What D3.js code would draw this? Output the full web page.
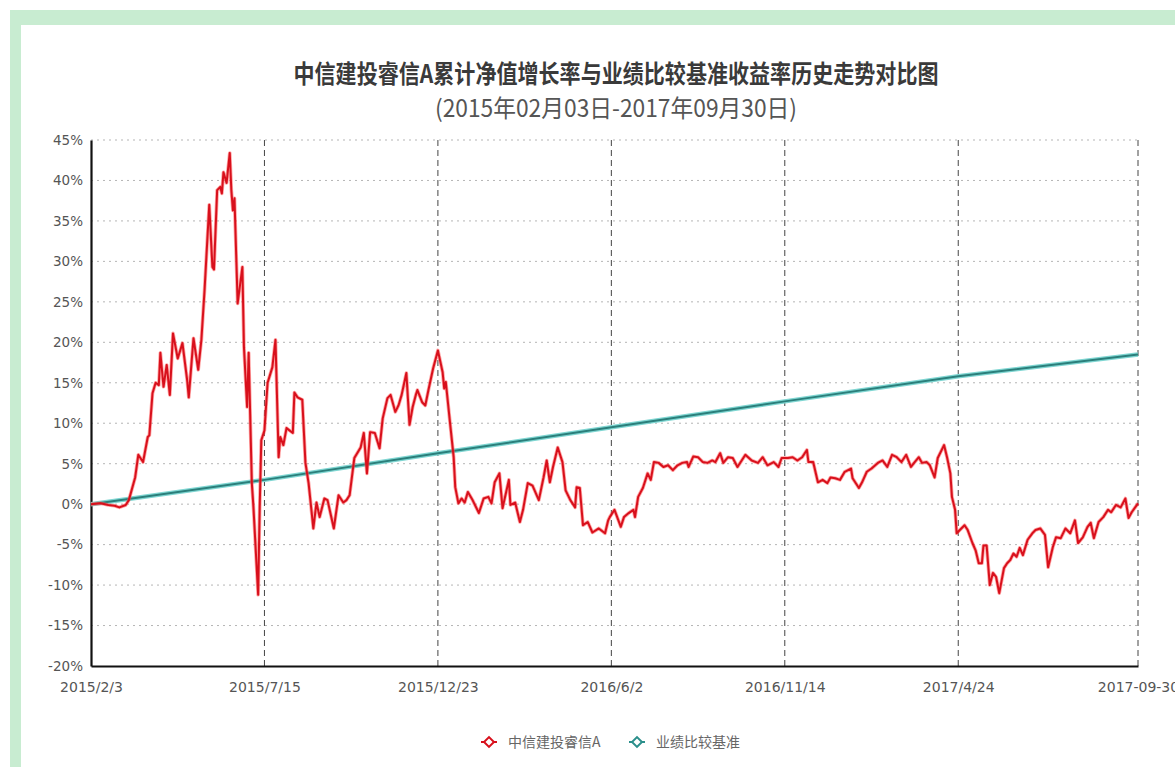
<!DOCTYPE html>
<html><head><meta charset="utf-8">
<script src="https://cdn.jsdelivr.net/npm/d3@7"></script>
<style>
html,body{margin:0;padding:0;background:#fff;}
svg{display:block;}
</style></head>
<body>
<svg id="c" width="1175" height="767"></svg>
<script>
// ---- data ----
const titleText = "中信建投睿信A累计净值增长率与业绩比较基准收益率历史走势对比图";
const subtitleText = "(2015年02月03日-2017年09月30日)";
const seriesNames = ["中信建投睿信A", "业绩比较基准"];
const xTickIdx = [0, 110, 220, 330, 440, 550, 664];
const xTickLabels = ["2015/2/3", "2015/7/15", "2015/12/23", "2016/6/2", "2016/11/14", "2017/4/24", "2017-09-30"];
const yTicks = [-20, -15, -10, -5, 0, 5, 10, 15, 20, 25, 30, 35, 40, 45];

// fund cumulative NAV growth (%) at trading-day index
const navIdx = [0,6,11,15,18,22,24,28,30,33,36,37,39,41,43,44,46,48,50,52,55,58,61,62,65,68,70,72,75,77,78,80,82,83,84,86,88,89,90,91,93,96,97,99,100,102,103,106,107,108,110,112,115,117,119,120,122,124,128,129,131,134,136,138,141,143,145,148,150,154,157,160,162,164,167,171,173,175,177,180,183,185,188,190,193,195,197,200,202,204,206,207,210,212,214,217,220,223,224,225,228,230,231,233,235,237,239,242,246,249,252,254,256,259,261,265,266,269,272,274,277,280,284,287,289,291,293,296,299,301,304,307,308,310,312,315,318,322,326,328,329,332,336,338,341,344,345,347,350,353,355,357,360,363,366,369,372,375,378,379,382,385,388,391,394,396,399,401,404,407,410,415,419,423,426,429,433,436,438,442,445,448,451,454,455,458,461,464,467,469,472,475,478,482,483,487,489,492,495,499,502,505,508,511,514,517,520,522,525,527,530,532,535,537,541,543,545,546,548,549,551,554,556,559,561,563,565,566,568,570,572,574,576,579,581,583,585,587,589,591,594,597,599,602,605,607,610,612,615,618,621,624,626,629,632,634,636,639,642,645,647,650,653,656,658,660,664];
const navVal = [0.0,0.1,-0.1,-0.2,-0.4,-0.1,0.5,3.3,6.1,5.2,8.3,8.5,13.7,15.0,14.7,18.7,14.5,17.2,13.5,21.1,18.0,19.9,15.3,13.2,20.5,16.6,20.3,26.4,37.0,29.3,29.0,38.8,39.2,38.4,41.0,39.7,43.4,38.8,36.3,37.8,24.8,29.3,19.4,12.0,18.7,2.6,-0.3,-11.2,-0.3,7.9,9.1,15.0,16.9,20.3,5.8,8.3,7.3,9.4,8.8,13.8,13.2,12.9,5.1,2.6,-3.0,0.2,-1.6,0.7,0.5,-3.0,1.1,0.2,0.5,1.1,5.7,7.0,8.8,3.8,8.9,8.8,6.9,10.6,13.1,13.5,11.4,12.2,13.5,16.2,9.8,12.0,13.5,14.1,12.6,12.2,14.1,16.8,19.0,16.3,14.3,15.1,9.5,5.8,2.1,0.1,0.7,0.2,1.5,0.5,-1.1,0.7,0.9,0.1,2.7,3.8,-0.5,3.0,-0.1,0.2,-2.2,-0.7,2.6,2.3,0.5,3.3,5.4,2.7,4.6,7.0,5.2,1.7,0.5,-0.4,2.1,2.0,-2.6,-2.2,-3.5,-3.0,-3.6,-2.0,-1.6,-0.7,-2.8,-1.6,-1.1,-0.7,-1.6,0.9,2.0,3.8,3.0,5.2,5.1,4.6,4.8,4.2,4.8,5.1,5.2,4.6,5.9,5.8,5.2,5.1,5.4,5.2,6.3,5.1,5.8,5.7,4.6,6.1,5.4,5.1,5.8,4.8,5.2,4.6,5.7,5.7,5.8,5.4,5.8,6.7,5.2,5.2,2.7,3.0,2.6,3.3,3.2,3.0,4.0,4.4,3.2,2.0,2.7,4.0,4.4,5.1,5.4,4.6,6.1,5.8,5.2,6.1,4.6,5.1,5.8,5.1,5.2,4.8,3.3,5.7,7.3,5.7,3.8,0.9,-0.7,-3.6,-3.2,-2.6,-3.2,-4.8,-5.7,-7.3,-7.3,-5.1,-5.1,-10.0,-8.5,-9.0,-11.0,-7.9,-7.3,-6.9,-6.1,-6.5,-5.4,-6.3,-4.4,-3.6,-3.2,-3.0,-3.8,-7.8,-5.3,-4.1,-4.2,-3.0,-3.6,-2.0,-4.8,-4.1,-2.8,-2.3,-4.2,-2.2,-1.6,-0.7,-1.0,-0.1,-0.4,0.7,-1.7,-1.0,0.1];

// benchmark return (%) at trading-day index
const benchIdx = [0, 110, 220, 330, 440, 550, 664];
const benchVal = [0.0, 3.0, 6.3, 9.5, 12.7, 15.8, 18.5];

// ---- drawing ----
const svg = d3.select("#c");
const W = 1175, H = 767;
const plot = {left: 91, right: 1138, top: 140, bottom: 666};

// background frame
svg.append("rect").attr("x", 0).attr("y", 0).attr("width", W).attr("height", H).attr("fill", "#fff");
svg.append("rect").attr("x", 10).attr("y", 10).attr("width", W - 10).attr("height", 15).attr("fill", "#c8ecd1");
svg.append("rect").attr("x", 10).attr("y", 10).attr("width", 11).attr("height", H - 10).attr("fill", "#c8ecd1");

const x = d3.scaleLinear().domain([0, 664]).range([plot.left, plot.right]);
const y = d3.scaleLinear().domain([-20, 45]).range([plot.bottom, plot.top]);

// horizontal dotted grid
svg.append("g").selectAll("line").data(yTicks.filter(d => d > -20)).join("line")
  .attr("x1", plot.left).attr("x2", plot.right)
  .attr("y1", d => y(d)).attr("y2", d => y(d))
  .attr("stroke", "#b5b5b5").attr("stroke-width", 1).attr("stroke-dasharray", "2,4");

// vertical dashed grid
svg.append("g").selectAll("line").data(xTickIdx.slice(1)).join("line")
  .attr("x1", d => x(d)).attr("x2", d => x(d))
  .attr("y1", plot.top).attr("y2", plot.bottom)
  .attr("stroke", "#444").attr("stroke-width", 1).attr("stroke-dasharray", "6,4");

// y axis
const yAxis = d3.axisLeft(y).tickValues(yTicks).tickSize(0).tickPadding(8).tickFormat(d => d + "%");
const gy = svg.append("g").attr("transform", `translate(${plot.left},0)`).call(yAxis);
gy.select(".domain").attr("stroke", "#111").attr("stroke-width", 2.2);
gy.selectAll("text").attr("font-family", "DejaVu Sans, Verdana, sans-serif").attr("font-size", 13.5).attr("fill", "#555");

// x axis
const xAxis = d3.axisBottom(x).tickValues(xTickIdx).tickSize(0).tickPadding(16)
  .tickFormat((d, i) => xTickLabels[i]);
const gx = svg.append("g").attr("transform", `translate(0,${plot.bottom})`).call(xAxis);
gx.select(".domain").attr("stroke", "#111").attr("stroke-width", 2.2);
gx.selectAll("text").attr("font-family", "DejaVu Sans, Verdana, sans-serif").attr("font-size", 14).attr("fill", "#555");

// lines
const benchLine = d3.line().x((d, i) => x(benchIdx[i])).y(d => y(d));
svg.append("path").attr("d", benchLine(benchVal)).attr("fill", "none")
  .attr("stroke", "#7fd6d2").attr("stroke-width", 4.5).attr("stroke-linejoin", "round");
svg.append("path").attr("d", benchLine(benchVal)).attr("fill", "none")
  .attr("stroke", "#2b7f7b").attr("stroke-width", 2).attr("stroke-linejoin", "round");

const navLine = d3.line().x((d, i) => x(navIdx[i])).y(d => y(d));
svg.append("path").attr("d", navLine(navVal)).attr("fill", "none")
  .attr("stroke", "#ff5a5a").attr("stroke-opacity", 0.55).attr("stroke-width", 3.6).attr("stroke-linejoin", "round");
svg.append("path").attr("d", navLine(navVal)).attr("fill", "none")
  .attr("stroke", "#d8101c").attr("stroke-width", 2).attr("stroke-linejoin", "round");

// title
svg.append("text").attr("x", 616).attr("y", 83).attr("text-anchor", "middle")
  .attr("font-family", "Noto Sans CJK SC, sans-serif").attr("font-size", 25).attr("font-weight", "bold")
  .attr("fill", "#3a3a3a").attr("textLength", 645).attr("lengthAdjust", "spacingAndGlyphs").text(titleText);
svg.append("text").attr("x", 616).attr("y", 117).attr("text-anchor", "middle")
  .attr("font-family", "Noto Sans CJK SC, sans-serif").attr("font-size", 24)
  .attr("fill", "#555").attr("textLength", 362).attr("lengthAdjust", "spacingAndGlyphs").text(subtitleText);

// legend
const legendColors = ["#d8101c", "#2b8f8b"];
const legendX = [489, 637];
const lg = svg.append("g").selectAll("g").data(seriesNames).join("g")
  .attr("transform", (d, i) => `translate(${legendX[i]},742)`);
lg.append("line").attr("x1", -8).attr("x2", 8).attr("stroke", (d, i) => legendColors[i]).attr("stroke-width", 2);
lg.append("rect").attr("x", -3.5).attr("y", -3.5).attr("width", 7).attr("height", 7)
  .attr("transform", "rotate(45)").attr("fill", "#fff")
  .attr("stroke", (d, i) => legendColors[i]).attr("stroke-width", 2);
lg.append("text").attr("x", 19).attr("y", 5)
  .attr("font-family", "Noto Sans CJK SC, sans-serif").attr("font-size", 14).attr("fill", "#666")
  .text(d => d);
</script>
</body></html>
